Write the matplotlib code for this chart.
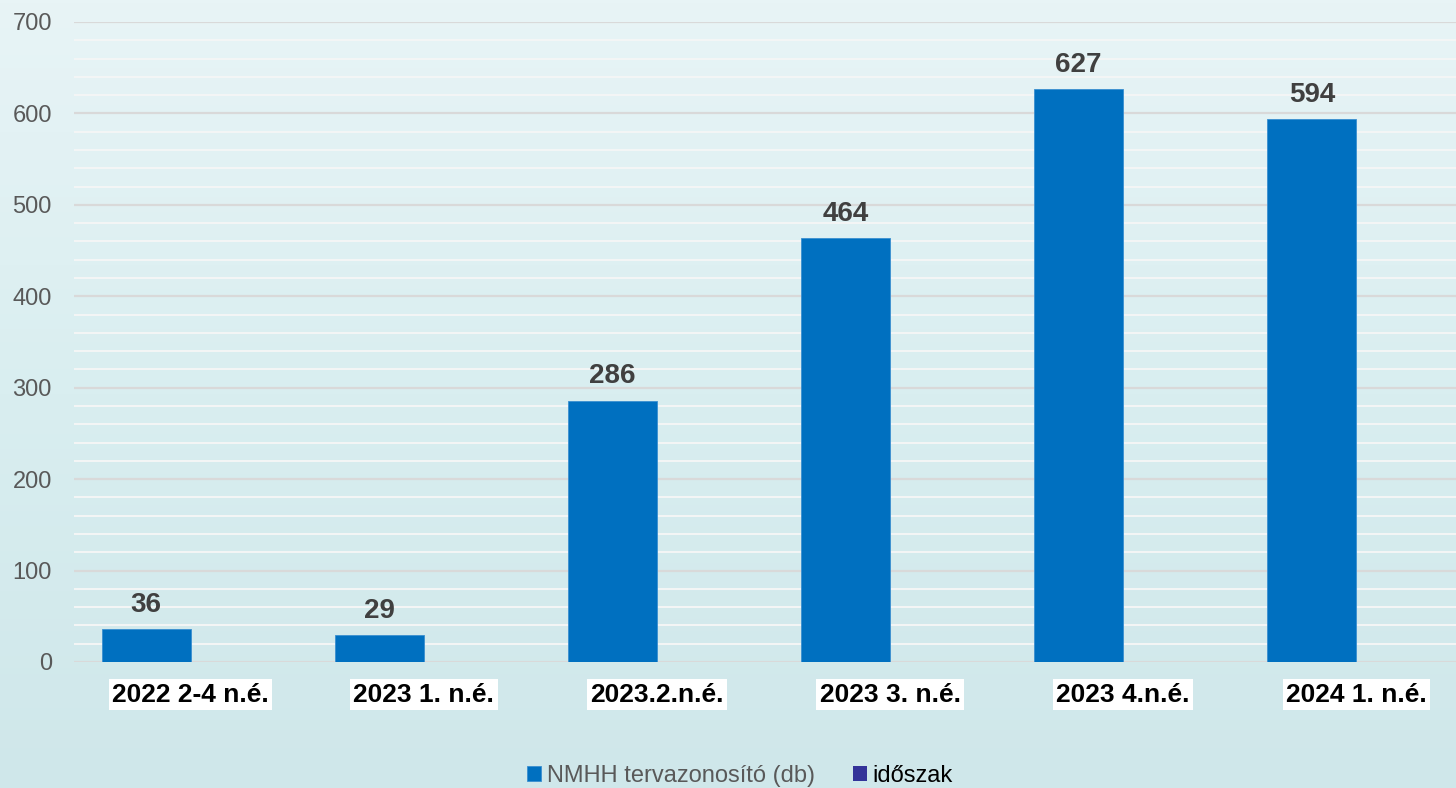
import numpy as np
import matplotlib
matplotlib.use("Agg")
import matplotlib.pyplot as plt
from matplotlib.colors import LinearSegmentedColormap

# data
categories = ["2022 2-4 n.é.", "2023 1. n.é.", "2023.2.n.é.", "2023 3. n.é.", "2023 4.n.é.", "2024 1. n.é."]
nmhh_values = [36, 29, 286, 464, 627, 594]
idoszak_values = [0, 0, 0, 0, 0, 0]
y_ticks = [0, 100, 200, 300, 400, 500, 600, 700]

plt.rcParams["font.family"] = ["Liberation Sans", "DejaVu Sans"]

fig = plt.figure(figsize=(14.56, 7.88), dpi=100)

# light blue gradient background
bg = fig.add_axes([0, 0, 1, 1], zorder=-10)
cmap = LinearSegmentedColormap.from_list("bg", ["#e8f4f6", "#d9eef0", "#cfe7ea"])
grad = np.linspace(0, 1, 256).reshape(-1, 1)
bg.imshow(grad, aspect="auto", cmap=cmap, extent=[0, 1, 0, 1], origin="upper")
bg.axis("off")

# plot area runs slightly past the right edge of the picture
ax = fig.add_axes([74 / 1456, 1 - 662 / 788, (1473 - 74) / 1456, (662 - 22) / 788])
ax.set_facecolor("none")

x = np.arange(len(categories))
width = 0.382
b1 = ax.bar(x - width / 2, nmhh_values, width, color="#0070C0", edgecolor="#3a8fd0",
            linewidth=0.6, label="NMHH tervazonosító (db)", zorder=3)
b2 = ax.bar(x + width / 2, idoszak_values, width, color="#333399", linewidth=0,
            label="időszak", zorder=3)

for rect, v in zip(b1, nmhh_values):
    ax.annotate(str(v), (rect.get_x() + rect.get_width() / 2, v),
                xytext=(0, 8), textcoords="offset points",
                ha="center", va="bottom", fontsize=20, fontweight="bold", color="#404040")

ax.set_xlim(-0.5, len(categories) - 0.5)
ax.set_ylim(0, 700)
ax.set_yticks(y_ticks)
ax.set_yticks(np.arange(0, 701, 20), minor=True)
ax.tick_params(axis="y", which="both", length=0, pad=16, labelsize=17, labelcolor="#595959")
ax.grid(axis="y", which="minor", color="#f4f6f6", linewidth=1.4, zorder=0)
ax.grid(axis="y", which="major", color="#d9d9d9", linewidth=1.6, zorder=1)
for s in ax.spines.values():
    s.set_visible(False)

ax.set_xticks(x)
ax.set_xticklabels(categories)
ax.tick_params(axis="x", length=0, pad=15, labelsize=19)
for lab in ax.get_xticklabels():
    lab.set_fontweight("bold")
    lab.set_color("black")
    lab.set_bbox(dict(facecolor="white", edgecolor="none", pad=2.5))

leg = fig.legend(handles=[b1, b2], loc="center", bbox_to_anchor=(740 / 1456, 1 - 776 / 788),
                 ncol=2, frameon=False, fontsize=17, handlelength=0.6, handleheight=0.6,
                 handletextpad=0.25, columnspacing=1.6)
texts = leg.get_texts()
texts[0].set_color("#595959")
texts[1].set_color("black")

fig.savefig("out.png", dpi=100)
